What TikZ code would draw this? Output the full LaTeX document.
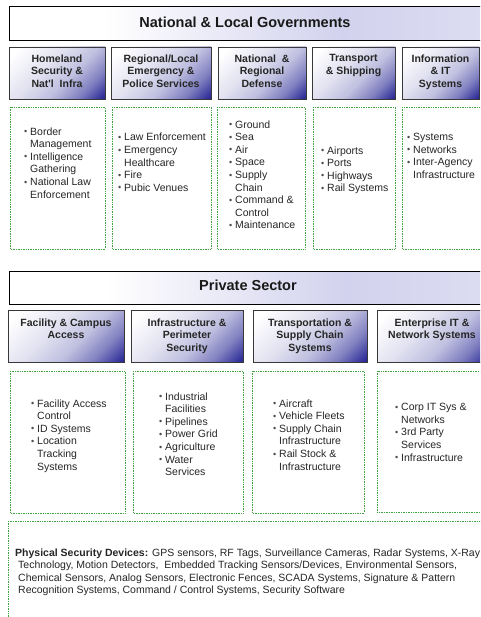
\documentclass[tikz,border=0pt]{standalone}
\usepackage{fontspec}
\setmainfont{Liberation Sans}
\definecolor{hdrblue}{HTML}{2C2C98}
\definecolor{lav}{HTML}{D2D2EE}
\definecolor{dotgreen}{HTML}{3FA33F}
\pgfdeclareverticalshading{hdrshade}{100bp}{color(0bp)=(hdrblue); color(16bp)=(hdrblue); color(28bp)=(hdrblue!60!white); color(42bp)=(hdrblue!30!white); color(58bp)=(hdrblue!14!white); color(80bp)=(white); color(100bp)=(white)}
\pgfdeclarehorizontalshading{bannershade}{100bp}{color(0bp)=(white); color(35bp)=(white); color(60bp)=(lav); color(80bp)=(lav!70!white); color(100bp)=(lav!70!white)}
\newcommand\bu{\makebox[6pt][l]{\raisebox{0.4pt}{\fontsize{9}{9}\selectfont\textcolor{black!70}{•}}}}
\newcommand\ct{\hspace*{6pt}}
\tikzset{
  banner/.style={draw=black, line width=1pt, shade, shading=bannershade},
  hdr/.style={draw=black!78, line width=0.9pt, shade, shading=hdrshade, shading angle=45},
  cbox/.style={draw=dotgreen, densely dotted, line width=0.7pt},
  ttl/.style={font=\fontsize{14.5}{17}\selectfont\bfseries, inner sep=0, text=black!90},
  htxt/.style={font=\fontsize{10.5}{12.5}\selectfont\bfseries, align=center, anchor=north, inner sep=0, text=black!85},
  btxt/.style={font=\fontsize{10.5}{12.6}\selectfont, align=left, anchor=north west, inner sep=0, text=black!85}
}
\begin{document}
\begin{tikzpicture}[x=1pt,y=-1pt]
\useasboundingbox (0,0) rectangle (480,617);
\clip (0,0) rectangle (480,617);
\fill[white] (0,0) rectangle (480,617);
% ---- National & Local Governments ----
\path[banner] (9,7) rectangle (484,41);
\node[ttl] (t1) at (245,22) {National \& Local Governments};
\path[hdr] (9,47) rectangle (105,99);
\path[hdr] (111,47) rectangle (211,99);
\path[hdr] (218,47) rectangle (306,99);
\path[hdr] (312,47) rectangle (395,99);
\path[hdr] (402,47) rectangle (479,99);
\node[htxt] (g1) at (57,54.2) {Homeland\\Security \&\\Nat\textquotesingle l \ Infra};
\node[htxt] (g2) at (161,54.2) {Regional/Local\\Emergency \&\\Police Services};
\node[htxt] (g3) at (262,54.2) {National \ \&\\Regional\\Defense};
\node[htxt] (g4) at (353.5,54.2) {Transport\\\& Shipping};
\node[htxt] (g5) at (440.5,54.2) {Information\\\& IT\\Systems};
\draw[cbox] (10,107) rectangle (105,249);
\draw[cbox] (112,107) rectangle (211,249);
\draw[cbox] (217,107) rectangle (305,249);
\draw[cbox] (313,107) rectangle (395,249);
\draw[cbox] (402,107) rectangle (484,249);
\node[btxt] (l1) at (24,127.2) {\bu Border\\\ct Management\\\bu Intelligence\\\ct Gathering\\\bu National Law\\\ct Enforcement};
\node[btxt] (l2) at (118,133.2) {\bu Law Enforcement\\\bu Emergency\\\ct Healthcare\\\bu Fire\\\bu Pubic Venues};
\node[btxt] (l3) at (229,120.2) {\bu Ground\\\bu Sea\\\bu Air\\\bu Space\\\bu Supply\\\ct Chain\\\bu Command \&\\\ct Control\\\bu Maintenance};
\node[btxt] (l4) at (321,146.2) {\bu Airports\\\bu Ports\\\bu Highways\\\bu Rail Systems};
\node[btxt] (l5) at (407,133.2) {\bu Systems\\\bu Networks\\\bu Inter-Agency\\\ct Infrastructure};
% ---- Private Sector ----
\path[banner] (9,271) rectangle (490,304);
\node[ttl] (t2) at (248,285) {Private Sector};
\path[hdr] (8,310) rectangle (124,362);
\path[hdr] (131,310) rectangle (243,362);
\path[hdr] (253,310) rectangle (367,362);
\path[hdr] (377,310) rectangle (490,362);
\node[htxt] (s1) at (66,318.2) {Facility \& Campus\\Access};
\node[htxt] (s2) at (187,318.2) {Infrastructure \&\\Perimeter\\Security};
\node[htxt] (s3) at (310,318.2) {Transportation \&\\Supply Chain\\Systems};
\node[htxt] (s4) at (432,318.2) {Enterprise IT \&\\Network Systems};
\draw[cbox] (10,371) rectangle (125,513);
\draw[cbox] (133,371) rectangle (243,513);
\draw[cbox] (252,371) rectangle (364,513);
\draw[cbox] (377,371) rectangle (490,512);
\node[btxt] (p1) at (31,399.2) {\bu Facility Access\\\ct Control\\\bu ID Systems\\\bu Location\\\ct Tracking\\\ct Systems};
\node[btxt] (p2) at (159,392.2) {\bu Industrial\\\ct Facilities\\\bu Pipelines\\\bu Power Grid\\\bu Agriculture\\\bu Water\\\ct Services};
\node[btxt] (p3) at (273,399.2) {\bu Aircraft\\\bu Vehicle Fleets\\\bu Supply Chain\\\ct Infrastructure\\\bu Rail Stock \&\\\ct Infrastructure};
\node[btxt] (p4) at (395,403.2) {\bu Corp IT Sys \&\\\ct Networks\\\bu 3rd Party\\\ct Services\\\bu Infrastructure};
% ---- Physical Security Devices ----
\draw[cbox] (8,521) rectangle (490,630);
\node[btxt] (d1) at (15,548.2) {\textbf{Physical Security Devices:} GPS sensors, RF Tags, Surveillance Cameras, Radar Systems, X-Ray\\\hspace*{3pt}Technology, Motion Detectors, \ Embedded Tracking Sensors/Devices, Environmental Sensors,\\\hspace*{3pt}Chemical Sensors, Analog Sensors, Electronic Fences, SCADA Systems, Signature \& Pattern\\\hspace*{3pt}Recognition Systems, Command / Control Systems, Security Software};
\end{tikzpicture}
\end{document}
